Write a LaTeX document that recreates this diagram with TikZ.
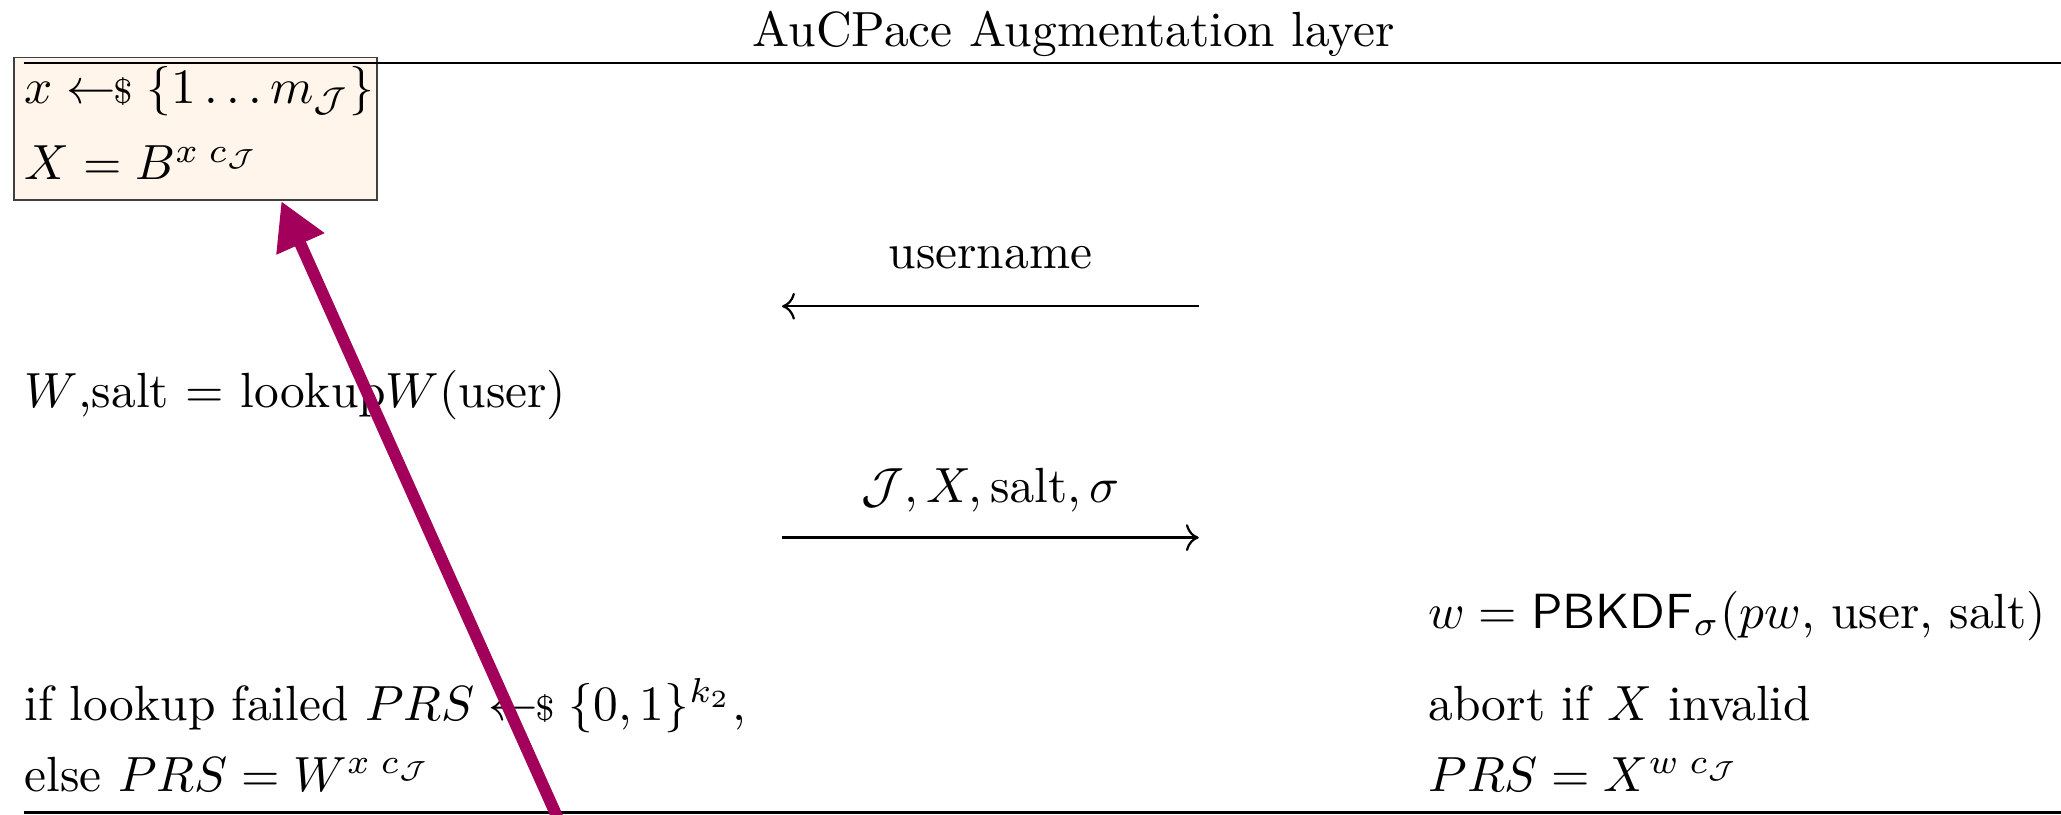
\documentclass[tikz,border=0pt]{standalone}
\usepackage{amsmath}
\usepackage{amssymb}
\usepackage{xcolor}
\usepackage{tikz}
\usetikzlibrary{positioning, arrows.meta}

\definecolor{notemag}{HTML}{A3005C}
\newcommand{\sampleR}{\mathrel{\leftarrow\!\!\mbox{\scriptsize\$}}}

\begin{document}
\begin{tikzpicture}[
        x=0.266pt, y=0.266pt,
        txt/.style={inner sep=0pt, anchor=base west},
        lbl/.style={inner sep=0pt, anchor=base},
        keybox/.style={draw=black!75, fill=orange!8, line width=0.4pt, anchor=north west, minimum width=73.4pt, minimum height=28.9pt, inner sep=0pt},
        msg/.style={->, line width=0.45pt},
        rule/.style={line width=0.5pt},
        hint/.style={-{Triangle[length=9.5pt, width=10pt]}, line width=2.4pt, notemag}
    ]
    \useasboundingbox (0,0) rectangle (1568,620);

    % Header
    \node[lbl] (title) at (817,585) {AuCPace Augmentation layer};
    \node[keybox] (box) at (10,577) {};
    \coordinate (topL) at (18,572);
    \coordinate (topR) at (1568,572);
    \draw[rule] (topL) -- (topR);

    % Client side, top
    \node[txt] (xs) at (18,541) {$x \sampleR \{1 \ldots m_{\mathcal{J}}\}$};
    \node[txt, below=15.4pt of xs.base west, anchor=base west] (Xdef) {$X = B^{x\; c_{\mathcal{J}}}$};
    \node[txt] (look) at (18,310) {$W$,salt $=$ lookup$W$(user)};

    % Messages
    \coordinate (srvA) at (912,387);
    \coordinate (cliA) at (595,387);
    \draw[msg] (srvA) -- node[above=7.4pt, inner sep=0pt] (unlbl) {username} (cliA);
    \coordinate (cliB) at (595,211);
    \coordinate (srvB) at (912,211);
    \draw[msg] (cliB) -- node[above=5pt, inner sep=0pt] (jxlbl) {$\mathcal{J}, X, \mathrm{salt}, \sigma$} (srvB);

    % Server side
    \node[txt] (pbk) at (1086,142) {$w = \mathsf{PBKDF}_{\sigma}(pw$, user, salt$)$};
    \node[txt, below=18.6pt of pbk.base west, anchor=base west] (abrt) {abort if $X$ invalid};
    \node[txt, below=14.4pt of abrt.base west, anchor=base west] (prsS) {$PRS = X^{w\; c_{\mathcal{J}}}$};

    % Client side, bottom
    \node[txt] (fail) at (18,72) {if lookup failed $PRS \sampleR \{0,1\}^{k_2}$,};
    \node[txt, below=14.4pt of fail.base west, anchor=base west] (prsC) {else $PRS = W^{x\; c_{\mathcal{J}}}$};

    \coordinate (botL) at (18,2);
    \coordinate (botR) at (1568,2);
    \draw[rule] (botL) -- (botR);

    % Pointer
    \coordinate (tail) at (425,-4);
    \coordinate (tip) at (214,467);
    \draw[hint] (tail) -- (tip);
\end{tikzpicture}
\end{document}
